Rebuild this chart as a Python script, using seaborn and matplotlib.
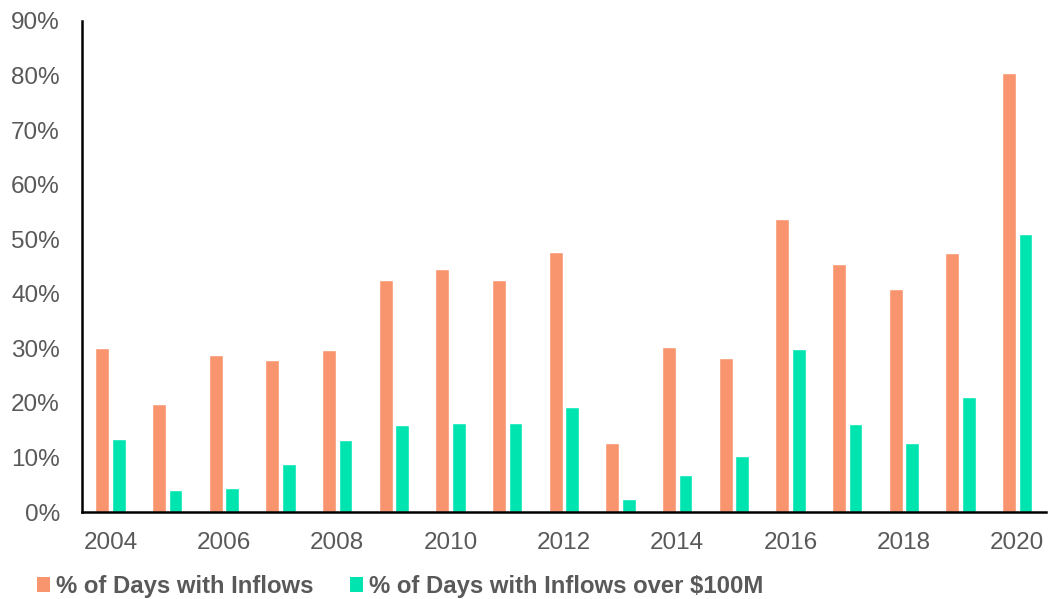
import matplotlib
matplotlib.use("Agg")
import matplotlib.pyplot as plt
import seaborn as sns
import pandas as pd
from matplotlib.ticker import FuncFormatter, MultipleLocator
from matplotlib.patches import Patch

years = list(range(2004, 2021))
inflow_days = [30.1, 19.8, 28.8, 27.9, 29.7, 42.5, 44.5, 42.5, 47.7, 12.6, 30.2, 28.2, 53.7, 45.5, 40.9, 47.5, 80.5]
inflow_100m = [13.4, 4.0, 4.4, 8.8, 13.2, 15.9, 16.3, 16.3, 19.2, 2.4, 6.8, 10.3, 29.9, 16.1, 12.6, 21.1, 51.0]
series_names = ["% of Days with Inflows", "% of Days with Inflows over $100M"]
colors = ["#F9956E", "#00E5B0"]

df = pd.DataFrame({
    "year": [str(y) for y in years] * 2,
    "value": inflow_days + inflow_100m,
    "series": [series_names[0]] * len(years) + [series_names[1]] * len(years),
})

sns.set_theme(style="white")
plt.rcParams["font.family"] = ["Liberation Sans", "DejaVu Sans"]
text_color = "#595959"

fig = plt.figure(figsize=(10.54, 5.99), dpi=100)
ax = fig.add_axes([0.078, 0.145, 0.914, 0.82])

sns.barplot(data=df, x="year", y="value", hue="series", palette=colors,
            width=0.58, gap=0.16, ax=ax, legend=False, saturation=1)

ax.set_ylim(0, 90)
ax.set_xlim(-0.5, len(years) - 0.5)
ax.yaxis.set_major_locator(MultipleLocator(10))
ax.yaxis.set_major_formatter(FuncFormatter(lambda v, p: f"{int(round(v))}%"))
ax.set_xticks(range(0, len(years), 2))
ax.set_xticklabels([str(y) for y in years[::2]])
ax.set_xlabel("")
ax.set_ylabel("")
ax.tick_params(axis="both", length=0, labelsize=17.5, colors=text_color)
ax.tick_params(axis="x", pad=14)
ax.tick_params(axis="y", pad=16)
for s in ["top", "right"]:
    ax.spines[s].set_visible(False)
for s in ["left", "bottom"]:
    ax.spines[s].set_color("black")
    ax.spines[s].set_linewidth(1.8)

handles = [Patch(facecolor=c, edgecolor="none") for c in colors]
leg = fig.legend(handles, series_names, loc="lower left", bbox_to_anchor=(0.015, -0.034),
                 ncol=2, frameon=False, handlelength=0.55, handleheight=0.55,
                 handletextpad=0.25, columnspacing=1.5,
                 prop={"weight": "bold", "size": 17.2})
for t in leg.get_texts():
    t.set_color(text_color)

fig.savefig("out.png", dpi=100)
